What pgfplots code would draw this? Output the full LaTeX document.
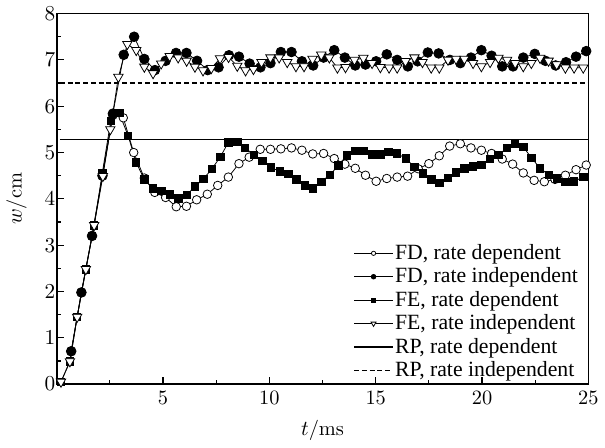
\documentclass[border=0pt]{standalone}
\usepackage{fontspec}
\usepackage{pgfplots}
\pgfplotsset{compat=1.18}
\newfontfamily\legfont{Liberation Serif}

\begin{document}
\begin{tikzpicture}
\begin{axis}[
    name=ax,
    scale only axis,
    width=274pt, height=191pt,
    xmin=0, xmax=25, ymin=0, ymax=8,
    xtick={0,5,...,25}, xticklabels={,5,10,15,20,25},
    ytick={0,1,...,8},
    minor x tick num=1, minor y tick num=1,
    tick align=inside, tick pos=left,
    major tick length=3.5pt, minor tick length=2pt,
    every tick/.style={black, line width=0.6pt},
    axis line style={line width=0.8pt},
    tick label style={font=\fontsize{10.5}{12}\selectfont},
    label style={font=\fontsize{10.5}{12}\selectfont},
    yticklabel style={inner xsep=0.6pt},
    xlabel={$t$/ms}, ylabel={$w$/cm},
    ylabel shift=5pt, xlabel shift=1pt,
    legend image code/.code={\draw[mark repeat=2,mark phase=2,#1] plot coordinates {(0pt,0pt) (10pt,0pt) (20pt,0pt)};},
    legend style={draw=none, fill=none, at={(rel axis cs:0.995,-0.005)}, anchor=south east,
        font=\legfont\fontsize{11.2}{13}\selectfont, row sep=0.4pt,
        nodes={inner ysep=1.2pt, inner xsep=0.8pt}},
    legend cell align=left,
]
\addlegendimage{black, line width=0.4pt, mark=*, mark size=1.1pt, mark options={fill=white}}
\addlegendimage{black, line width=0.4pt, mark=*, mark size=1.2pt}
\addlegendimage{black, line width=0.4pt, mark=square*, mark size=1.1pt}
\addlegendimage{black, line width=0.4pt, mark=triangle*, mark size=1.5pt, mark options={rotate=180, fill=white}}
\addlegendimage{black, line width=0.6pt}
\addlegendimage{black, line width=0.6pt, dash pattern=on 2.5pt off 1.5pt}

% FD, rate dependent
\addplot[forget plot, black, line width=0.4pt, mark=*, mark size=2.2pt, mark options={fill=white}] coordinates {
(0.68,0.71) (1.16,1.98) (1.66,3.20) (2.15,4.50) (2.64,5.80) (3.13,5.75) (3.62,5.00)
(4.12,4.45) (4.61,4.14) (5.12,4.03) (5.62,3.83) (6.10,3.84) (6.58,3.98) (7.08,4.10)
(7.57,4.29) (8.07,4.47) (8.57,4.76) (9.05,4.90) (9.57,5.07) (10.05,5.07) (10.54,5.08)
(11.04,5.10) (11.53,5.05) (12.04,4.97) (12.55,4.98) (13.05,4.87) (13.55,4.75) (14.04,4.66)
(14.52,4.51) (15.02,4.38) (15.52,4.44) (16.01,4.47) (16.50,4.49) (17.00,4.65) (17.50,4.76)
(17.99,4.93) (18.48,5.14) (18.98,5.19) (19.48,5.10) (19.97,5.05) (20.45,4.98) (20.95,4.86)
(21.44,4.75) (21.94,4.56) (22.45,4.40) (22.93,4.37) (23.43,4.42) (23.92,4.51) (24.42,4.63)
(24.90,4.73)
};
% FD, rate independent
\addplot[forget plot, black, line width=0.4pt, mark=*, mark size=2.5pt] coordinates {
(0.68,0.71) (1.16,1.98) (1.66,3.20) (2.15,4.50) (2.64,5.84) (3.15,7.11) (3.64,7.50)
(4.12,7.02) (4.62,6.78) (5.12,6.98) (5.61,7.15) (6.10,7.15) (6.60,6.98) (7.10,6.78)
(7.61,6.84) (8.10,7.10) (8.57,7.07) (9.07,6.92) (9.58,6.84) (10.05,6.93) (10.54,7.17)
(11.04,7.17) (11.53,6.97) (12.06,6.88) (12.55,7.05) (13.05,7.21) (13.55,7.05) (14.04,6.88)
(14.52,6.90) (15.02,6.97) (15.52,7.12) (16.01,7.00) (16.51,6.86) (16.97,6.97) (17.45,7.16)
(17.96,7.14) (18.49,7.00) (18.98,6.93) (19.48,7.05) (19.97,7.21) (20.45,7.09) (20.95,6.86)
(21.46,6.86) (21.94,7.05) (22.48,7.13) (22.98,6.98) (23.46,6.88) (23.95,6.95) (24.42,7.07)
(24.90,7.19)
};
% FE, rate dependent
\addplot[forget plot, black, line width=0.4pt, mark=square*, mark size=1.9pt] coordinates {
(0.20,0.05) (0.62,0.49) (0.96,1.45) (1.37,2.48) (1.76,3.43) (2.14,4.55) (2.54,5.68)
(2.94,5.85) (3.36,5.36) (3.73,4.79) (4.12,4.42) (4.52,4.23) (4.92,4.17) (5.31,4.10)
(5.72,4.01) (6.12,4.09) (6.51,4.27) (6.90,4.43) (7.30,4.65) (7.70,4.91) (8.07,5.22)
(8.49,5.23) (8.86,5.10) (9.27,4.95) (9.67,4.82) (10.08,4.68) (10.49,4.59) (10.89,4.54)
(11.27,4.42) (11.68,4.29) (12.06,4.23) (12.44,4.37) (12.85,4.52) (13.24,4.72) (13.65,4.94)
(14.04,5.03) (14.42,5.03) (14.83,4.96) (15.22,4.96) (15.60,5.01) (16.01,4.98) (16.42,4.87)
(16.82,4.69) (17.22,4.55) (17.61,4.42) (17.99,4.35) (18.40,4.45) (18.78,4.57) (19.17,4.66)
(19.58,4.70) (19.97,4.73) (20.38,4.86) (20.77,4.95) (21.18,5.10) (21.56,5.19) (21.94,5.12)
(22.32,4.89) (22.73,4.66) (23.13,4.52) (23.51,4.44) (23.92,4.37) (24.33,4.38) (24.76,4.47)
};
% FE, rate independent
\addplot[forget plot, black, line width=0.4pt, mark=triangle*, mark size=2.8pt, mark options={rotate=180, fill=white}] coordinates {
(0.20,0.05) (0.62,0.49) (0.96,1.45) (1.37,2.48) (1.76,3.43) (2.17,4.49) (2.52,5.50)
(2.90,6.63) (3.32,7.34) (3.74,7.21) (4.12,6.85) (4.53,6.71) (4.91,6.92) (5.31,7.08)
(5.71,7.05) (6.11,6.98) (6.50,6.85) (6.88,6.77) (7.27,6.82) (7.68,7.03) (8.08,7.06)
(8.49,6.87) (8.88,6.77) (9.25,6.80) (9.63,6.95) (10.05,7.05) (10.46,7.05) (10.84,6.95)
(11.25,6.86) (11.63,6.86) (12.03,7.02) (12.44,7.11) (12.82,7.05) (13.20,6.83) (13.58,6.84)
(14.00,7.00) (14.42,7.04) (14.83,6.93) (15.22,6.84) (15.63,6.83) (16.01,6.83) (16.40,6.97)
(16.82,7.05) (17.20,6.95) (17.61,6.83) (17.99,6.83) (18.40,7.00) (18.78,7.02) (19.17,7.02)
(19.58,6.93) (19.97,6.86) (20.38,6.95) (20.77,7.04) (21.18,7.00) (21.56,6.93) (21.94,6.86)
(22.32,6.93) (22.73,7.04) (23.13,6.98) (23.51,6.90) (23.92,6.83) (24.33,6.83) (24.76,6.83)
};
% RP
\addplot[forget plot, black, line width=0.6pt] coordinates {(0.15,5.28) (25,5.28)};
\addplot[forget plot, black, line width=0.6pt, dash pattern=on 2.5pt off 1.5pt] coordinates {(0.15,6.5) (25,6.5)};

\legend{{FD, rate dependent}, {FD, rate independent}, {FE, rate dependent},
        {FE, rate independent}, {RP, rate dependent}, {RP, rate independent}}
\end{axis}
\path ([shift={(-24.5pt,-23.5pt)}]ax.south west) rectangle ([shift={(4pt,7pt)}]ax.north east);
\end{tikzpicture}
\end{document}
